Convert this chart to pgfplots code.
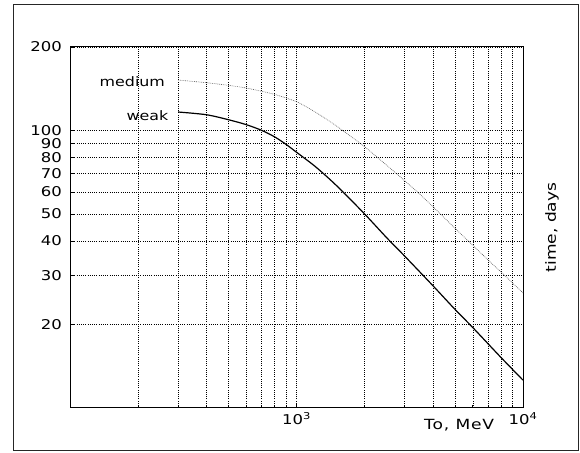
\documentclass[border=0pt]{standalone}
\usepackage{fontspec}
\setmainfont{DejaVu Sans}[FakeStretch=1.22]
\usepackage{pgfplots}
\pgfplotsset{compat=1.18}
\pgfplotstableread{
x y
300 116.6
400 114
500 109.4
600 105
700 100.2
800 94.9
900 89.1
1000 83.5
1200 74.6
1400 66.8
1600 60.2
2000 50
2500 41.1
3000 35.3
4000 27.6
5000 22.7
6000 19.5
8000 15.2
10000 12.6
}\weak
\pgfplotstableread{
x y
300 152
400 148.7
500 145.5
600 142.3
700 138.5
800 135
900 131
1000 127
1100 122
1200 117
1400 108
1600 100
1800 93.2
2000 87.4
2500 75
3000 66
3500 59
4000 53.2
5000 44.5
6000 38.6
7000 34.2
8000 30.9
9000 28.2
10000 26
}\medium
\begin{document}
\begin{tikzpicture}[x=1pt,y=1pt]
\useasboundingbox (-70,-44) rectangle (510,408);
\draw[line width=0.8pt, black!85] (-57,-42) rectangle (508,404);
\begin{axis}[
  at={(0,0)}, anchor=south west,
  scale only axis, width=453pt, height=361pt,
  xmode=log, ymode=log,
  xmin=100, xmax=10000, ymin=10, ymax=200,
  xtick={1000,10000}, xticklabels={\mbox{10\textsuperscript{3}},\mbox{10\textsuperscript{4}}},
  minor xtick={200,300,400,500,600,700,800,900,2000,3000,4000,5000,6000,7000,8000,9000},
  ytick={20,30,40,50,60,70,80,90,100,200},
  yticklabels={\mbox{20},\mbox{30},\mbox{40},\mbox{50},\mbox{60},\mbox{70},\mbox{80},\mbox{90},\mbox{100},\mbox{200}},
  yminorticks=false,
  xmajorgrids, xminorgrids, ymajorgrids,
  major grid style={black, line width=0.5pt, dash pattern=on 0.8pt off 1.4pt},
  minor grid style={black, line width=0.5pt, dash pattern=on 0.8pt off 1.4pt},
  axis line style={line width=1pt},
  tick align=inside, tick pos=left,
  major tick length=5pt, minor tick length=3pt,
  tick style={black, line width=0.6pt},
  ticklabel style={font=\fontsize{13.5}{15}\selectfont},
  yticklabel style={inner sep=1pt, xshift=-7pt},
  xticklabel style={yshift=-1pt},
  xlabel={To, MeV},
  xlabel style={at={(rel axis cs:0.859,0)}, anchor=center, yshift=-17pt, font=\fontsize{14}{16}\selectfont\addfontfeature{LetterSpace=6}},
  ylabel={time, days},
  ylabel style={at={(rel axis cs:1.064,0.5)}, anchor=center, font=\fontsize{14}{16}\selectfont},
]
\addplot[black!65, line width=0.6pt, dash pattern=on 0.8pt off 1pt, smooth] table[x=x,y=y] {\medium};
\addplot[black, line width=1.2pt, smooth] table[x=x,y=y] {\weak};
\node[anchor=east, inner sep=0pt, font=\fontsize{13}{15}\selectfont] at (axis cs:263,149.6) {medium};
\node[anchor=east, inner sep=0pt, font=\fontsize{13}{15}\selectfont] at (axis cs:272,113.5) {weak};
\end{axis}
\end{tikzpicture}
\end{document}
